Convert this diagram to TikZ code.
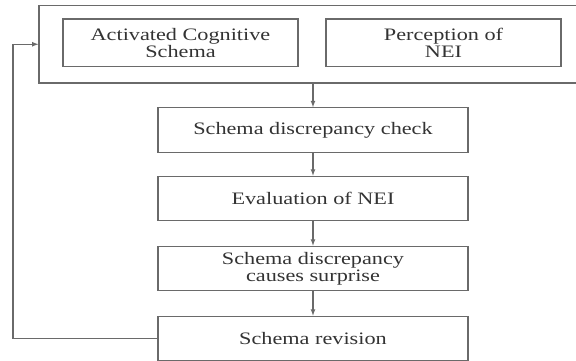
\documentclass[tikz,border=0pt]{standalone}
\usepackage{fontspec}
\setmainfont{Liberation Serif}[FakeStretch=1.27]
\usepackage{xcolor}
\usepackage{tikz}
\usetikzlibrary{arrows,positioning}

\definecolor{linegray}{HTML}{6A6A6A}
\definecolor{textgray}{HTML}{333333}

\begin{document}
\begin{tikzpicture}[
    x=1pt, y=-1pt, >=latex,
    stagebox/.style={draw=linegray, line width=1.2pt, minimum width=310pt, minimum height=44.5pt,
        align=center, text=textgray, font=\fontsize{17.5}{17}\selectfont, inner sep=0pt},
    inputbox/.style={stagebox, minimum width=235pt, minimum height=47.5pt},
    flow/.style={->, draw=linegray, line width=1.2pt},
]
    \useasboundingbox (0,0) rectangle (576,360);

    % top group
    \node[draw=linegray, line width=1.2pt, minimum width=541pt, minimum height=77.5pt, inner sep=0pt] (outer) at (309.5,44.25) {};
    \node[inputbox] (schema) at (180.5,42.75) {Activated Cognitive\\Schema};
    \node[inputbox] (percept) at (443.5,42.75) {Perception of\\NEI};

    % main chain
    \node[stagebox] (check) at (313,130) {Schema discrepancy check};
    \node[stagebox] (eval) at (313,198.5) {Evaluation of NEI};
    \node[stagebox] (surprise) at (313,268.5) {Schema discrepancy\\causes surprise};
    \node[stagebox] (revision) at (313,338.5) {Schema revision};

    \draw[flow] (outer.south -| check) -- (check);
    \draw[flow] (check) -- (eval);
    \draw[flow] (eval) -- (surprise);
    \draw[flow] (surprise) -- (revision);

    % feedback loop
    \coordinate (back) at (13,338.5);
    \draw[flow] (revision.west) -- (back) |- (outer.west);
\end{tikzpicture}
\end{document}
